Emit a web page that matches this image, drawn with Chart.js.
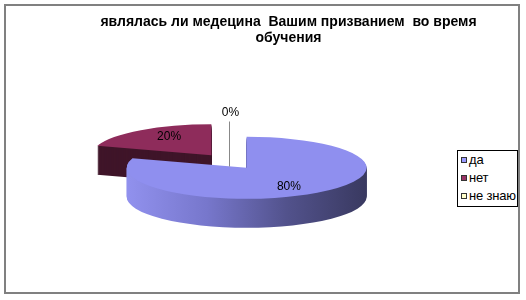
<!DOCTYPE html>
<html>
<head>
<meta charset="utf-8">
<script src="https://cdn.jsdelivr.net/npm/chart.js@4"></script>
<style>
  body { margin: 0; background: #fff; font-family: 'Liberation Sans', Arial, sans-serif; }
  #frame { position: absolute; left: 4px; top: 4px; width: 512px; height: 286px; border: 2px solid #808080; }
  #c { position: absolute; left: 0; top: 0; }
  #legend { position: absolute; left: 457px; top: 150px; width: 59px; height: 55px; border: 1px solid #000; background: #fff; font-size: 13px; color: #000; }
  #legend .row { height: 18px; line-height: 18px; padding-left: 3px; white-space: nowrap; letter-spacing: -0.2px; }
  #legend .key { display: inline-block; width: 4px; height: 4px; border: 1px solid #333; margin-right: 2px; vertical-align: 1px; }
</style>
</head>
<body>
<div id="frame"></div>
<canvas id="c" width="526" height="300"></canvas>
<div id="legend"></div>
<script>
const titleLines = ['являлась ли медецина  Вашим призванием  во время', 'обучения'];
const labels = ['да', 'нет', 'не знаю'];
const values = [80, 20, 0];
const topColors = ['#8f8fef', '#8e2c5b', '#ffffcc'];
const keyColors = ['#9999ff', '#993366', '#ffffcc'];
const sideColors = [['#9191ee', '#7777cc', '#52528c', '#393960'], ['#3f1529'], ['#cccc99']];

// where the flattened pie sits on the page
const CX = 229, CY = 161.5, RX = 120, RY = 31, DEPTH = 29, EXPLODE = 0.25;

function sector(ctx, el) {
  ctx.beginPath();
  ctx.moveTo(el.x, el.y);
  ctx.arc(el.x, el.y, el.outerRadius, el.startAngle, el.endAngle);
  ctx.closePath();
}

function place(ctx, el, dz) {
  const mid = (el.startAngle + el.endAngle) / 2;
  const R = el.outerRadius;
  ctx.translate(CX, CY + dz);
  ctx.scale(RX / R, RY / R);
  ctx.translate(Math.cos(mid) * EXPLODE * R, Math.sin(mid) * EXPLODE * R);
  ctx.translate(-el.x, -el.y);
}

const pie3d = {
  id: 'pie3d',
  beforeDatasetsDraw(chart) {
    const ctx = chart.ctx;
    const midSin = el => Math.sin((el.startAngle + el.endAngle) / 2);
    const arcs = chart.getDatasetMeta(0).data
      .map((el, i) => ({ el, i }))
      .filter(a => a.el.circumference > 0)
      .sort((a, b) => midSin(a.el) - midSin(b.el));
    arcs.forEach(({ el, i }) => {
      const R = el.outerRadius;
      const stops = sideColors[i];
      for (let d = DEPTH; d >= 1; d--) {
        ctx.save();
        place(ctx, el, d);
        let fill = stops[0];
        if (stops.length > 1) {
          const g = ctx.createLinearGradient(el.x - R, 0, el.x + R, 0);
          stops.forEach((c, k) => g.addColorStop(k / (stops.length - 1), c));
          fill = g;
        }
        ctx.fillStyle = fill;
        sector(ctx, el);
        ctx.fill();
        ctx.restore();
      }
      ctx.save();
      place(ctx, el, 0);
      el.draw(ctx);
      ctx.restore();
    });
    return false;
  },
  afterDraw(chart) {
    const ctx = chart.ctx;
    const meta = chart.getDatasetMeta(0);
    const total = values.reduce((s, v) => s + v, 0);
    ctx.save();
    ctx.font = '12px "Liberation Sans", Arial, sans-serif';
    ctx.fillStyle = '#000';
    ctx.textAlign = 'center';
    ctx.textBaseline = 'middle';
    meta.data.forEach((el, i) => {
      const txt = Math.round(values[i] / total * 100) + '%';
      const mid = (el.startAngle + el.endAngle) / 2;
      if (el.circumference > 0) {
        const cx = CX + Math.cos(mid) * EXPLODE * RX;
        const cy = CY + Math.sin(mid) * EXPLODE * RY;
        ctx.fillText(txt, cx + Math.cos(mid) * RX * 0.6, cy + Math.sin(mid) * RY * 0.75);
      } else {
        // empty slice: label outside with a leader line
        const lx = CX + Math.cos(mid) * (RX + 18), ly = CY + Math.sin(mid) * (RY + 18);
        ctx.fillText(txt, lx + 1.5, ly);
        ctx.strokeStyle = '#888';
        ctx.lineWidth = 1;
        ctx.beginPath();
        ctx.moveTo(Math.round(lx) + 0.5, ly + 9);
        ctx.lineTo(Math.round(CX) + 0.5, CY + 5);
        ctx.stroke();
      }
    });
    ctx.restore();
  }
};

new Chart(document.getElementById('c'), {
  type: 'pie',
  data: {
    labels,
    datasets: [{ data: values, backgroundColor: topColors, borderWidth: 0 }]
  },
  options: {
    responsive: false,
    animation: false,
    events: [],
    layout: { padding: { left: 51 } },
    plugins: {
      legend: { display: false },
      tooltip: { enabled: false },
      title: {
        display: true,
        text: titleLines,
        color: '#000',
        font: { family: "'Liberation Sans', Arial, sans-serif", size: 14, weight: 'bold', lineHeight: 1.15 },
        padding: { top: 14, bottom: 10 }
      }
    }
  },
  plugins: [pie3d]
});

const legend = document.getElementById('legend');
labels.forEach((l, i) => {
  const row = document.createElement('div');
  row.className = 'row';
  row.innerHTML = '<span class="key" style="background:' + keyColors[i] + '"></span>' + l;
  legend.appendChild(row);
});
</script>
</body>
</html>
